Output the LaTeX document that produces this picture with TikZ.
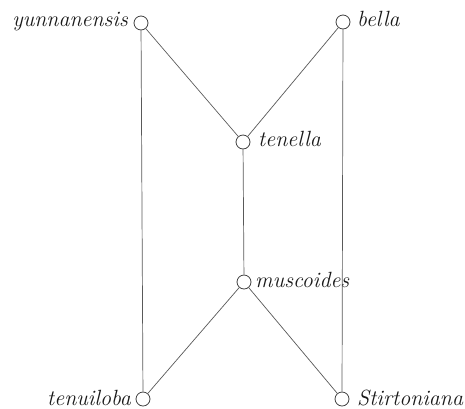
\documentclass[tikz,border=0pt]{standalone}
\begin{document}
\begin{tikzpicture}[x=1pt,y=-1pt,
  taxon/.style={circle,draw=black!75,line width=0.8pt,minimum size=14pt,inner sep=0pt},
  lbl/.style={font=\fontsize{22}{26}\selectfont\itshape,inner sep=0pt,text=black!90},
  link/.style={draw=black!65,line width=0.7pt}]
\useasboundingbox[fill=white] (0,0) rectangle (465,408);
\node[taxon] (yun) at (141,23) {};
\node[taxon] (bel) at (343,22) {};
\node[taxon] (ten) at (243,142) {};
\node[taxon] (mus) at (244,282) {};
\node[taxon] (tnl) at (143,399) {};
\node[taxon] (sti) at (342,399) {};
\node[lbl,anchor=base east] (lyun) at (128,26) {yunnanensis};
\node[lbl,anchor=base west] (lbel) at (357,26) {bella};
\node[lbl,anchor=base west] (lten) at (258,146) {tenella};
\node[lbl,anchor=base west] (lmus) at (255,287) {muscoides};
\node[lbl,anchor=base east] (ltnl) at (131,405) {tenuiloba};
\node[lbl,anchor=base west] (lsti) at (357,405) {Stirtoniana};
\draw[link] (yun) -- (tnl);
\draw[link] (yun) -- (ten);
\draw[link] (bel) -- (ten);
\draw[link] (bel) -- (sti);
\draw[link] (ten) -- (mus);
\draw[link] (mus) -- (tnl);
\draw[link] (mus) -- (sti);
\end{tikzpicture}
\end{document}
